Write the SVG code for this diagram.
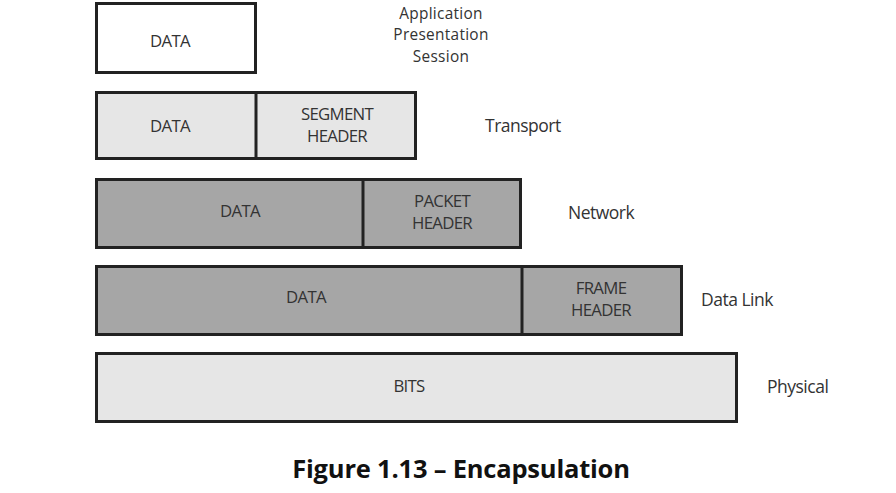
<svg xmlns="http://www.w3.org/2000/svg" width="896" height="493" viewBox="0 0 896 493">
<style>
.box{stroke:#222;stroke-width:3}
.div{stroke:#222;stroke-width:3}
.w{fill:#ffffff}
.l{fill:#e6e6e6}
.d{fill:#a6a6a6}
.t{font-family:"Open Sans","Liberation Sans",sans-serif;font-size:16.8px;fill:#333;text-anchor:middle;letter-spacing:-0.7px}
.lab{font-family:"Open Sans","Liberation Sans",sans-serif;font-size:17.5px;fill:#333;letter-spacing:-0.5px}
.stk{font-family:"Open Sans","Liberation Sans",sans-serif;font-size:15.4px;fill:#333;letter-spacing:0.3px;text-anchor:middle}
.cap{font-family:"Open Sans","Liberation Sans",sans-serif;font-size:25.5px;font-weight:bold;fill:#111;text-anchor:middle;letter-spacing:-0.2px}
</style>
<rect width="896" height="493" fill="#fff"/>
<g id="app">
<rect class="box w" x="96.5" y="3.5" width="159" height="69"/>
<text class="t" x="170" y="47">DATA</text>
<text class="stk" x="441" y="19">Application</text>
<text class="stk" x="441" y="40">Presentation</text>
<text class="stk" x="441" y="62">Session</text>
</g>
<g id="transport">
<rect class="box l" x="96.5" y="92.5" width="319" height="66"/>
<line class="div" x1="256" y1="92" x2="256" y2="159"/>
<text class="t" x="170" y="132">DATA</text>
<text class="t" x="337" y="120">SEGMENT</text>
<text class="t" x="337" y="142">HEADER</text>
<text class="lab" x="485" y="132">Transport</text>
</g>
<g id="network">
<rect class="box d" x="96.5" y="179.5" width="424" height="68"/>
<line class="div" x1="363" y1="179" x2="363" y2="248"/>
<text class="t" x="240" y="217">DATA</text>
<text class="t" x="442" y="207">PACKET</text>
<text class="t" x="442" y="229">HEADER</text>
<text class="lab" x="568" y="219">Network</text>
</g>
<g id="datalink">
<rect class="box d" x="96.5" y="266.5" width="585" height="68"/>
<line class="div" x1="522" y1="266" x2="522" y2="335"/>
<text class="t" x="306" y="303">DATA</text>
<text class="t" x="601" y="294">FRAME</text>
<text class="t" x="601" y="316">HEADER</text>
<text class="lab" x="701" y="306">Data Link</text>
</g>
<g id="physical">
<rect class="box l" x="96.5" y="353.5" width="640" height="68"/>
<text class="t" x="409" y="392">BITS</text>
<text class="lab" x="767" y="393">Physical</text>
</g>
<g id="connectors"></g>
<text class="cap" x="461" y="478">Figure 1.13 – Encapsulation</text>
</svg>
